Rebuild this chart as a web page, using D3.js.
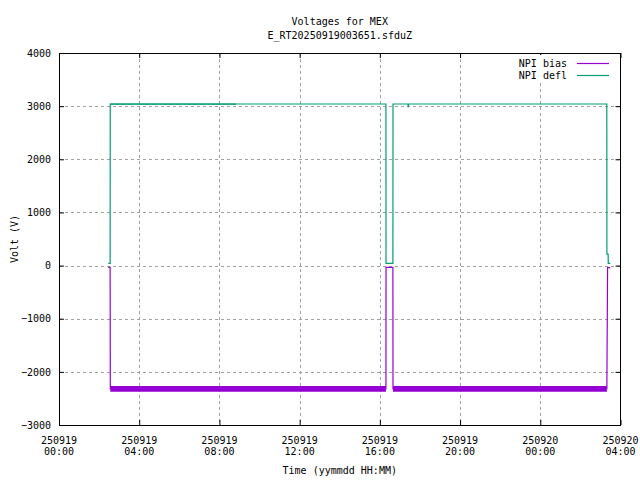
<!DOCTYPE html>
<html>
<head>
<meta charset="utf-8">
<script src="https://cdn.jsdelivr.net/npm/d3@7"></script>
<style>
    body { margin: 0; background: #fff; }
    svg { display: block; }
    text { font-family: "DejaVu Sans Mono", monospace; font-size: 10px; fill: #000; }
</style>
</head>
<body>
<svg id="chart" width="640" height="480"></svg>
<script>
// chart values
const titleLines = ["Voltages for MEX", "E_RT20250919003651.sfduZ"]
const seriesNames = ["NPI bias", "NPI defl"]
const seriesColors = ["#9400d3", "#009e73"]

const xDomain = ["250919 00:00:00", "250920 04:00:00"]
const xTickTimes = ["250919 00:00:00", "250919 04:00:00", "250919 08:00:00", "250919 12:00:00",
    "250919 16:00:00", "250919 20:00:00", "250920 00:00:00", "250920 04:00:00"]
const yTicks = [-3000, -2000, -1000, 0, 1000, 2000, 3000, 4000]

// [time, volt]
const biasPoints = [
    ["250919 02:27:20", -35], ["250919 02:33:00", -35], ["250919 02:33:30", -2320],
    ["250919 16:18:10", -2320], ["250919 16:18:30", -35], ["250919 16:39:00", -35],
    ["250919 16:39:20", -2320], ["250920 03:19:10", -2320], ["250920 03:21:20", -40],
    ["250920 03:29:20", -40]
]
// noisy plateau: [from, to, low, high]
const biasBands = [
    ["250919 02:33:30", "250919 16:18:10", -2372, -2268],
    ["250919 16:39:20", "250920 03:19:10", -2372, -2268]
]

const deflPoints = [
    ["250919 02:27:20", 40], ["250919 02:33:00", 40], ["250919 02:33:20", 3040],
    ["250919 16:18:10", 3040], ["250919 16:18:30", 40], ["250919 16:39:00", 40],
    ["250919 16:39:20", 3040], ["250919 17:24:20", 3040], ["250919 17:24:40", 2990],
    ["250919 17:25:40", 2990], ["250919 17:26:00", 3040], ["250920 03:19:00", 3040],
    ["250920 03:19:20", 215], ["250920 03:23:00", 215], ["250920 03:23:20", 40],
    ["250920 03:29:20", 40]
]
const deflBands = [
    ["250919 02:33:20", "250919 08:50:00", 3028, 3048]
]

const xLabel = "Time (yymmdd HH:MM)"
const yLabel = "Volt (V)"


let parseT = d3.timeParse("%y%m%d %H:%M:%S")
let margin = { left: 59, right: 620.5, top: 53, bottom: 425 }

let svg = d3.select("#chart")

/* scales */
let xScale = d3.scaleTime()
    .domain(xDomain.map(parseT))
    .range([margin.left, margin.right])

let yScale = d3.scaleLinear()
    .domain([-3000, 4000])
    .range([margin.bottom, margin.top])

/* grid */
let gridG = svg.append("g")
    .attr("id", "grid")
    .style("stroke", "#a0a0a0")
    .style("stroke-dasharray", "3,3")
    .style("shape-rendering", "crispEdges")

gridG.selectAll("line.gx")
    .data(xTickTimes.slice(1, -1))
    .enter()
    .append("line")
    .attr("class", "gx")
    .attr("x1", d => Math.round(xScale(parseT(d))) + 0.5)
    .attr("x2", d => Math.round(xScale(parseT(d))) + 0.5)
    .attr("y1", margin.top)
    .attr("y2", margin.bottom)

gridG.selectAll("line.gy")
    .data(yTicks.slice(1, -1))
    .enter()
    .append("line")
    .attr("class", "gy")
    .attr("x1", margin.left)
    .attr("x2", margin.right)
    .attr("y1", d => Math.round(yScale(d)) + 0.5)
    .attr("y2", d => Math.round(yScale(d)) + 0.5)

/* axes */
let tickLen = 5
let axisG = svg.append("g")
    .attr("id", "axes")

let leftAxis = d3.axisLeft(yScale).tickValues(yTicks).tickSize(-tickLen).tickPadding(8).tickFormat(d3.format("d"))
let rightAxis = d3.axisRight(yScale).tickValues(yTicks).tickSize(-tickLen).tickFormat("")
let bottomAxis = d3.axisBottom(xScale).tickValues(xTickTimes.map(parseT)).tickSize(-tickLen).tickFormat("")
let topAxis = d3.axisTop(xScale).tickValues(xTickTimes.map(parseT)).tickSize(-tickLen).tickFormat("")

axisG.append("g").attr("transform", `translate(${margin.left},0)`).call(leftAxis)
axisG.append("g").attr("transform", `translate(${margin.right},0)`).call(rightAxis)
axisG.append("g").attr("transform", `translate(0,${margin.bottom})`).call(bottomAxis)
axisG.append("g").attr("transform", `translate(0,${margin.top})`).call(topAxis)

axisG.selectAll(".domain").remove()
axisG.selectAll(".tick line").style("stroke", "#000")
axisG.selectAll(".tick text")
    .style("font-family", "'DejaVu Sans Mono', monospace")
    .style("font-size", "10px")

axisG.append("rect")
    .attr("x", margin.left + 0.5)
    .attr("y", margin.top + 0.5)
    .attr("width", margin.right - margin.left - 1)
    .attr("height", margin.bottom - margin.top)
    .style("fill", "none")
    .style("stroke", "#000")
    .style("shape-rendering", "crispEdges")

/* x tick labels on two lines */
let xLab = svg.append("g").attr("id", "xlabels")
    .selectAll("text")
    .data(xTickTimes.map(parseT))
    .enter()
    .append("text")
    .attr("text-anchor", "middle")

xLab.append("tspan")
    .attr("x", d => xScale(d))
    .attr("y", 443.5)
    .text(d => d3.timeFormat("%y%m%d")(d))
xLab.append("tspan")
    .attr("x", d => xScale(d))
    .attr("y", 454.5)
    .text(d => d3.timeFormat("%H:%M")(d))

/* titles */
svg.selectAll("text.title")
    .data(titleLines)
    .enter()
    .append("text")
    .attr("class", "title")
    .attr("text-anchor", "middle")
    .attr("x", (margin.left + margin.right) / 2)
    .attr("y", (d, i) => 24.5 + i * 14)
    .text(d => d)

svg.append("text")
    .attr("text-anchor", "middle")
    .attr("x", (margin.left + margin.right) / 2)
    .attr("y", 474)
    .text(xLabel)

svg.append("text")
    .attr("text-anchor", "middle")
    .attr("transform", `translate(18,${(margin.top + margin.bottom) / 2}) rotate(-90)`)
    .text(yLabel)

/* series */
let line = d3.line()
    .x(d => xScale(parseT(d[0])))
    .y(d => yScale(d[1]))

let bandArea = d3.area()
    .x(d => xScale(parseT(d[0])))
    .y0(d => yScale(d[1]))
    .y1(d => yScale(d[2]))

let allSeries = [
    { name: seriesNames[0], color: seriesColors[0], points: biasPoints, bands: biasBands },
    { name: seriesNames[1], color: seriesColors[1], points: deflPoints, bands: deflBands }
]

/* legend box hides the grid behind it */
let legendG = svg.append("g").attr("id", "legend")
legendG.append("rect")
    .attr("x", 520)
    .attr("y", 55)
    .attr("width", 98)
    .attr("height", 28)
    .style("fill", "#fff")

let plotG = svg.append("g").attr("id", "series")

allSeries.forEach(function (s) {
    let g = plotG.append("g")
    g.selectAll("path.band")
        .data(s.bands)
        .enter()
        .append("path")
        .attr("class", "band")
        .attr("d", b => bandArea([[b[0], b[2], b[3]], [b[1], b[2], b[3]]]))
        .style("fill", s.color)
    g.append("path")
        .attr("d", line(s.points))
        .style("fill", "none")
        .style("stroke", s.color)
        .style("stroke-width", 1.2)
})

let legendItem = legendG.selectAll("g")
    .data(allSeries)
    .enter()
    .append("g")
    .attr("transform", (d, i) => `translate(0,${67 + i * 12})`)

legendItem.append("text")
    .attr("x", 567)
    .attr("text-anchor", "end")
    .text(d => d.name)

legendItem.append("line")
    .attr("x1", 577)
    .attr("x2", 609)
    .attr("y1", -3.5)
    .attr("y2", -3.5)
    .style("stroke", d => d.color)
    .style("stroke-width", 1.2)
</script>
</body>
</html>
